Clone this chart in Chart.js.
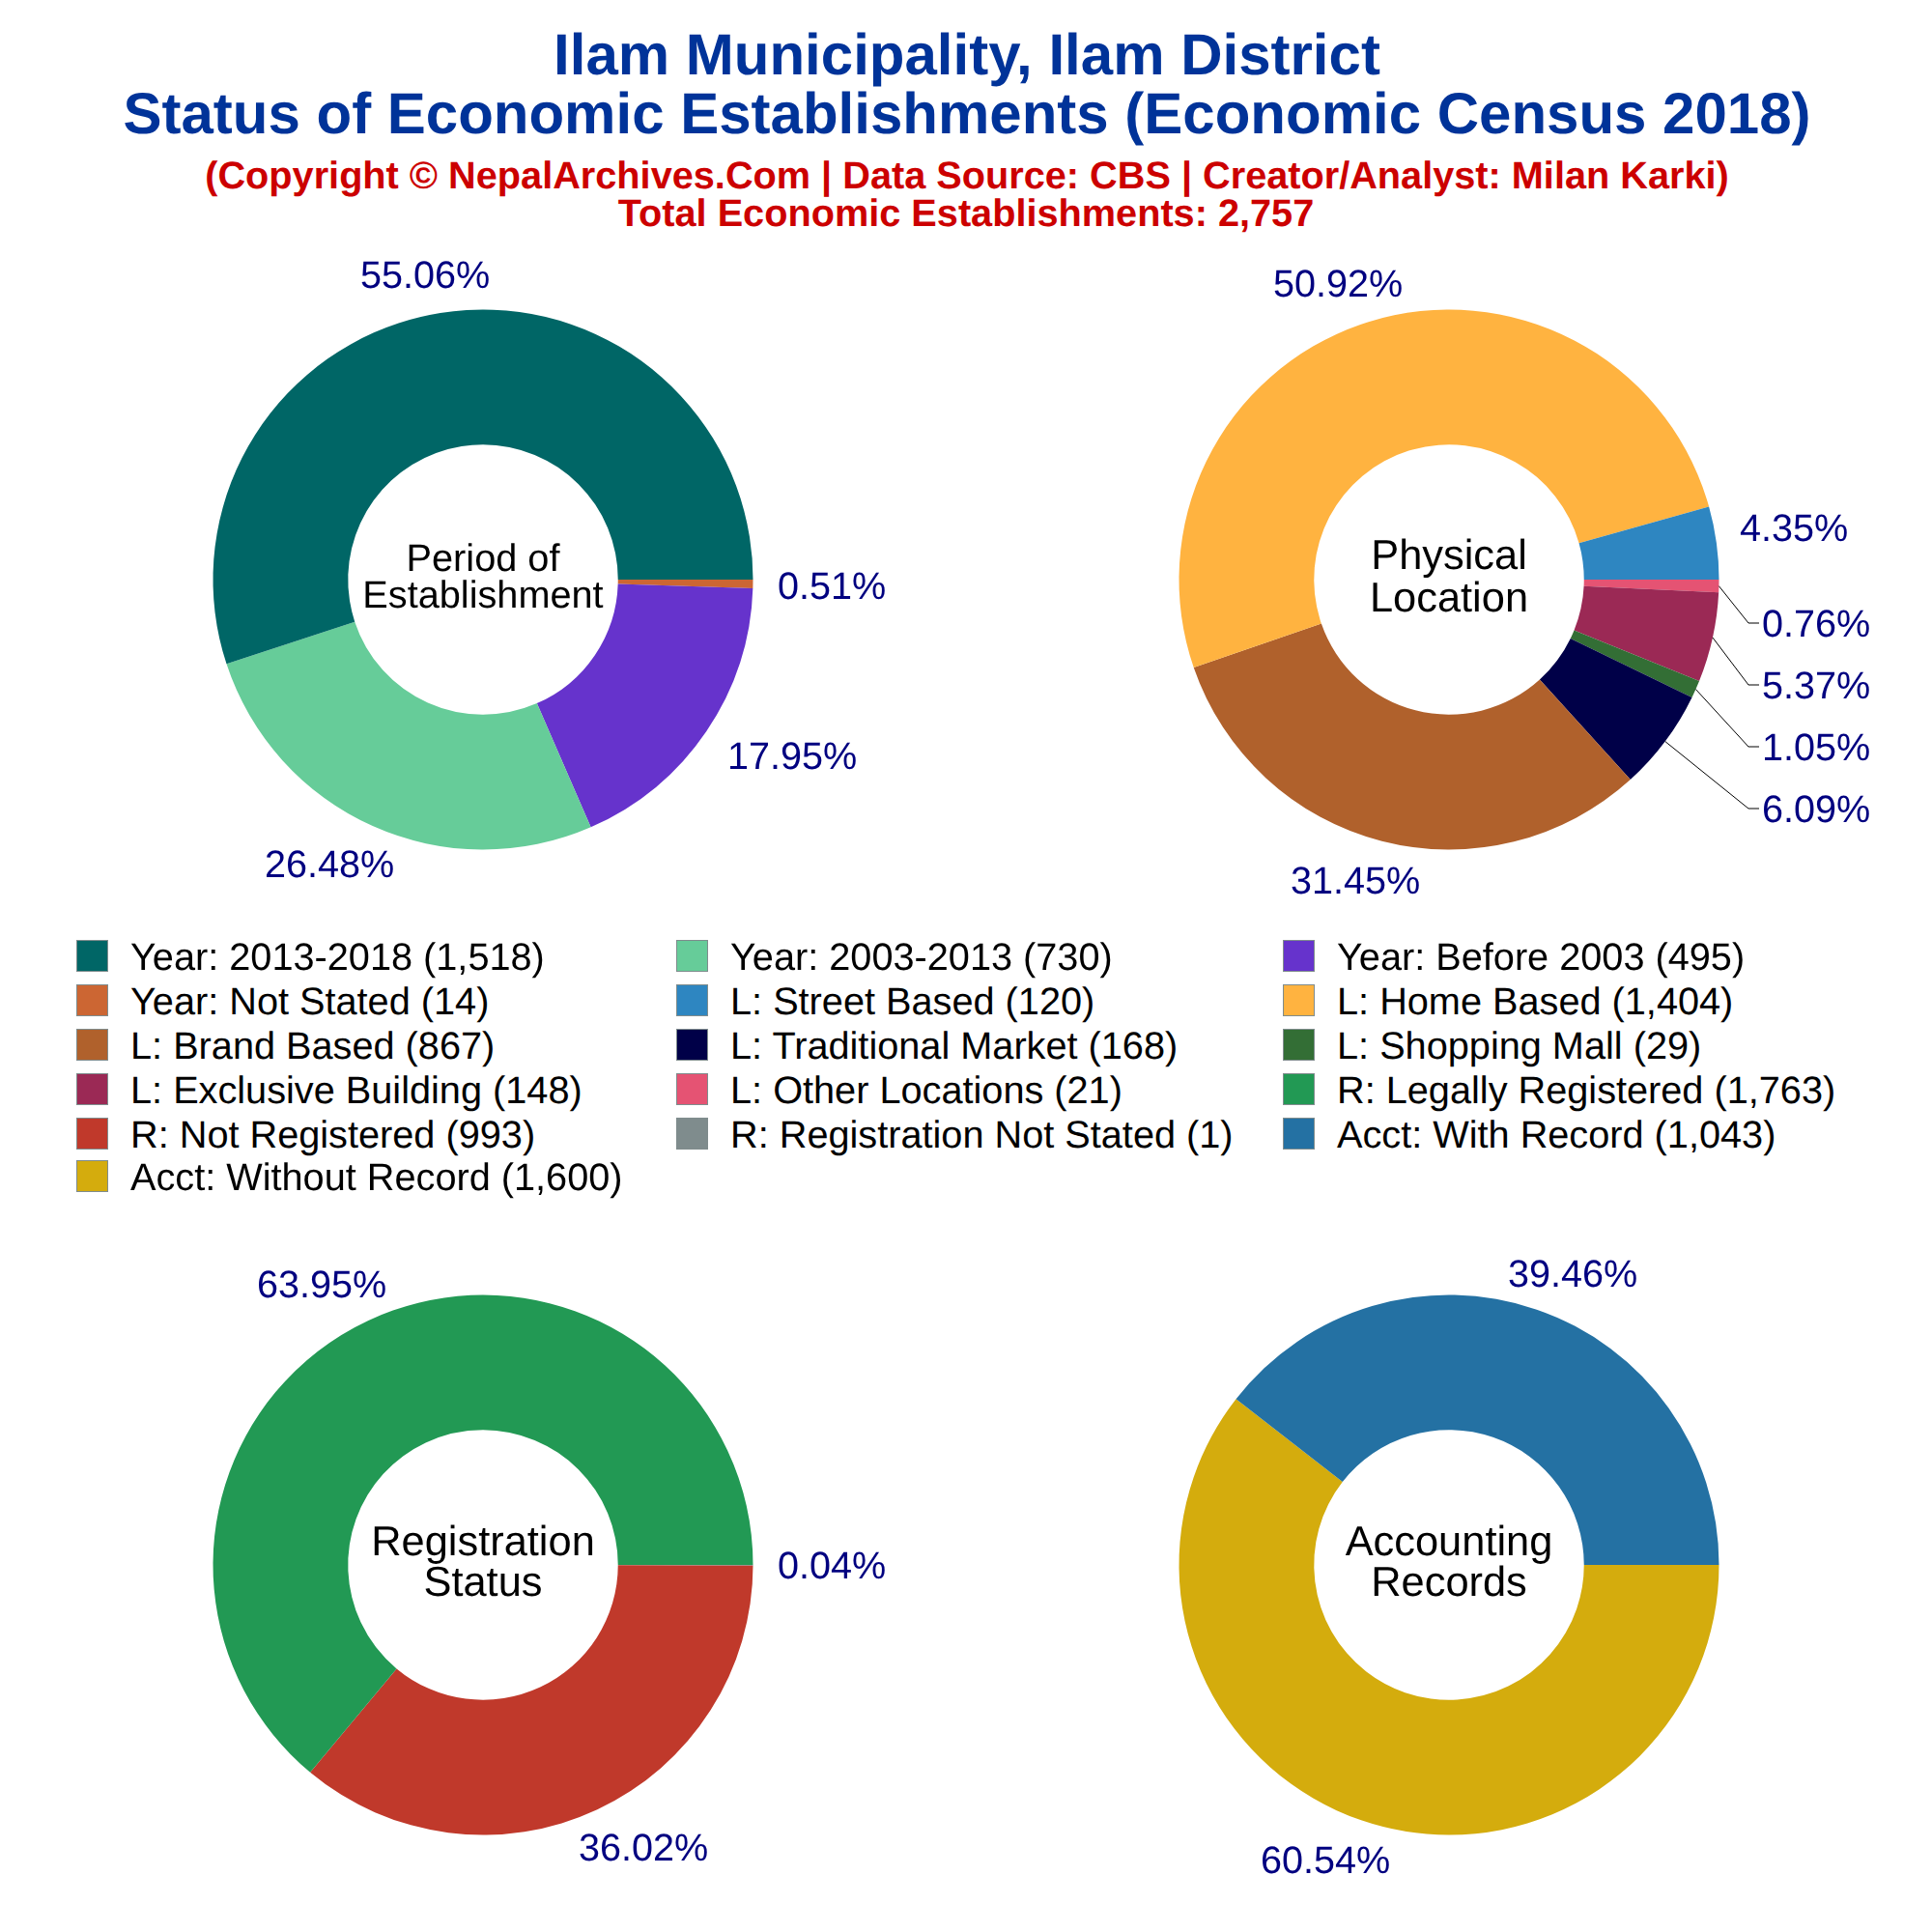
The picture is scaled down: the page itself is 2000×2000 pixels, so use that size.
<!DOCTYPE html>
<html>
<head>
<meta charset="utf-8">
<title>Ilam Municipality</title>
<script src="https://cdn.jsdelivr.net/npm/chart.js@4"></script>
<style>
  html, body { margin: 0; padding: 0; background: #fff; }
  #page { position: relative; width: 2000px; height: 2000px; overflow: hidden; font-family: "Liberation Sans", Arial, sans-serif; text-rendering: geometricPrecision; }
  canvas { position: absolute; }
  .head { position: absolute; left: 0; width: 2000px; text-align: center; font-weight: bold; white-space: nowrap; transform: translateY(-50%); }
  .swatch { position: absolute; width: 33px; height: 33px; box-sizing: border-box; border: 1px solid #7f8c8d; }
  .item { position: absolute; font-size: 39.7px; color: #000; white-space: nowrap; transform: translateY(-50%); }
</style>
</head>
<body>
<div id="page">
  <div class="head" style="left:1px;top:56px;font-size:60px;color:#003399">Ilam Municipality, Ilam District</div>
  <div class="head" style="left:1px;top:117px;font-size:60px;color:#003399">Status of Economic Establishments (Economic Census 2018)</div>
  <div class="head" style="left:1px;top:182px;font-size:39.7px;color:#cc0000">(Copyright © NepalArchives.Com | Data Source: CBS | Creator/Analyst: Milan Karki)</div>
  <div class="head" style="top:221px;font-size:39.7px;color:#cc0000">Total Economic Establishments: 2,757</div>
  <canvas id="pie1" width="1000" height="760" style="left:0;top:220px"></canvas>
  <canvas id="pie2" width="1000" height="760" style="left:1000px;top:220px"></canvas>
  <canvas id="pie3" width="1000" height="760" style="left:0;top:1240px"></canvas>
  <canvas id="pie4" width="1000" height="760" style="left:1000px;top:1240px"></canvas>
</div>
<script>
// data, in legend order (each ring runs counter-clockwise from 3 o'clock)
const periodLabels = ["Year: 2013-2018", "Year: 2003-2013", "Year: Before 2003", "Year: Not Stated"];
const periodValues = [1518, 730, 495, 14];
const periodColors = ["#006666", "#66cc99", "#6633cc", "#cc6633"];

const locationLabels = ["L: Street Based", "L: Home Based", "L: Brand Based", "L: Traditional Market", "L: Shopping Mall", "L: Exclusive Building", "L: Other Locations"];
const locationValues = [120, 1404, 867, 168, 29, 148, 21];
const locationColors = ["#2e86c1", "#ffb340", "#b0612c", "#000048", "#336e35", "#9b2955", "#e55373"];

const registrationLabels = ["R: Legally Registered", "R: Not Registered", "R: Registration Not Stated"];
const registrationValues = [1763, 993, 1];
const registrationColors = ["#229954", "#c0392b", "#7f8c8d"];

const accountLabels = ["Acct: With Record", "Acct: Without Record"];
const accountValues = [1043, 1600];
const accountColors = ["#2471a3", "#d4ac0d"];

// legend grid, filled row by row
const legendRows = [989.5, 1035.5, 1081.5, 1127, 1173.5, 1217.5];
const legendSwatchX = [79, 700, 1328];
const legendTextX = [135, 756, 1384];

// where the percent labels sit on the page (centre of the text), legend order
const periodSpots = [[440, 287], [341, 897], [820, 785], [861, 609]];
const locationSpots = [[1857, 549], [1385, 296], [1403, 914], [1880, 840], [1880, 776], [1880, 712], [1880, 648]];
const registrationSpots = [[333, 1332], [666, 1915], [861, 1623]];
const accountSpots = [[1628, 1321], [1372, 1928]];

// slices that get a leader line: index -> elbow on the page
const locationLeaders = { 3: [1810, 837], 4: [1810, 773], 5: [1810, 709], 6: [1810, 645] };

function centerAndLabels(opts) {
  return {
    id: "centerAndLabels",
    afterDraw(chart) {
      const ctx = chart.ctx;
      const n = opts.values.length;
      const total = opts.values.reduce((a, b) => a + b, 0);
      const arcs = chart.getDatasetMeta(0).data;
      const ox = opts.left;
      const oy = opts.top;

      ctx.save();
      ctx.textAlign = "center";
      ctx.textBaseline = "middle";
      ctx.textRendering = "geometricPrecision";

      // name in the hole
      ctx.fillStyle = "#000";
      ctx.font = opts.centerSize + 'px "Liberation Sans"';
      for (let i = 0; i < opts.center.length; i++) {
        ctx.fillText(opts.center[i][0], arcs[0].x, opts.center[i][1] - oy);
      }

      for (let i = 0; i < n; i++) {
        // rings are drawn reversed, see below
        const arc = arcs[n - 1 - i];
        const spot = opts.spots[i];

        if (opts.leaders && opts.leaders[i]) {
          const mid = (arc.startAngle + arc.endAngle) / 2;
          const elbow = opts.leaders[i];
          ctx.beginPath();
          ctx.moveTo(arc.x + Math.cos(mid) * arc.outerRadius, arc.y + Math.sin(mid) * arc.outerRadius);
          ctx.lineTo(elbow[0] - ox, elbow[1] - oy);
          ctx.lineTo(elbow[0] + 11 - ox, elbow[1] - oy);
          ctx.strokeStyle = "#000";
          ctx.lineWidth = 1;
          ctx.stroke();
        }

        ctx.fillStyle = "#000080";
        ctx.font = '39.6px "Liberation Sans"';
        ctx.fillText((opts.values[i] / total * 100).toFixed(2) + "%", spot[0] - ox, spot[1] - oy);
      }
      ctx.restore();
    },
  };
}

function drawPie(id, opts) {
  const canvas = document.getElementById(id);
  opts.left = parseFloat(canvas.style.left);
  opts.top = parseFloat(canvas.style.top);
  new Chart(canvas, {
    type: "doughnut",
    data: {
      labels: opts.labels.slice().reverse(),
      datasets: [
        {
          data: opts.values.slice().reverse(),
          backgroundColor: opts.colors.slice().reverse(),
          borderWidth: 0,
        },
      ],
    },
    options: {
      responsive: false,
      animation: false,
      devicePixelRatio: 1,
      cutout: "50%",
      rotation: 90,
      layout: { padding: { top: 100.5, bottom: 100.5 } },
      plugins: { legend: { display: false }, tooltip: { enabled: false } },
    },
    plugins: [centerAndLabels(opts)],
  });
}

drawPie("pie1", {
  labels: periodLabels, values: periodValues, colors: periodColors, spots: periodSpots,
  center: [["Period of", 580], ["Establishment", 618]], centerSize: 39.7,
});
drawPie("pie2", {
  labels: locationLabels, values: locationValues, colors: locationColors, spots: locationSpots,
  leaders: locationLeaders,
  center: [["Physical", 577], ["Location", 621]], centerSize: 43.4,
});
drawPie("pie3", {
  labels: registrationLabels, values: registrationValues, colors: registrationColors, spots: registrationSpots,
  center: [["Registration", 1598], ["Status", 1640]], centerSize: 43.4,
});
drawPie("pie4", {
  labels: accountLabels, values: accountValues, colors: accountColors, spots: accountSpots,
  center: [["Accounting", 1598], ["Records", 1640]], centerSize: 43.4,
});

// legend
const legendNames = [...periodLabels, ...locationLabels, ...registrationLabels, ...accountLabels];
const legendValues = [...periodValues, ...locationValues, ...registrationValues, ...accountValues];
const legendColors = [...periodColors, ...locationColors, ...registrationColors, ...accountColors];
const page = document.getElementById("page");

for (let i = 0; i < legendNames.length; i++) {
  const row = Math.floor(i / 3);
  const col = i % 3;

  const swatch = document.createElement("div");
  swatch.className = "swatch";
  swatch.style.left = legendSwatchX[col] + "px";
  swatch.style.top = legendRows[row] - 16.5 + "px";
  swatch.style.background = legendColors[i];
  page.appendChild(swatch);

  const item = document.createElement("div");
  item.className = "item";
  item.style.left = legendTextX[col] + "px";
  item.style.top = legendRows[row] + 1.5 + "px";
  item.textContent = legendNames[i] + " (" + legendValues[i].toLocaleString("en-US") + ")";
  page.appendChild(item);
}
</script>
</body>
</html>
